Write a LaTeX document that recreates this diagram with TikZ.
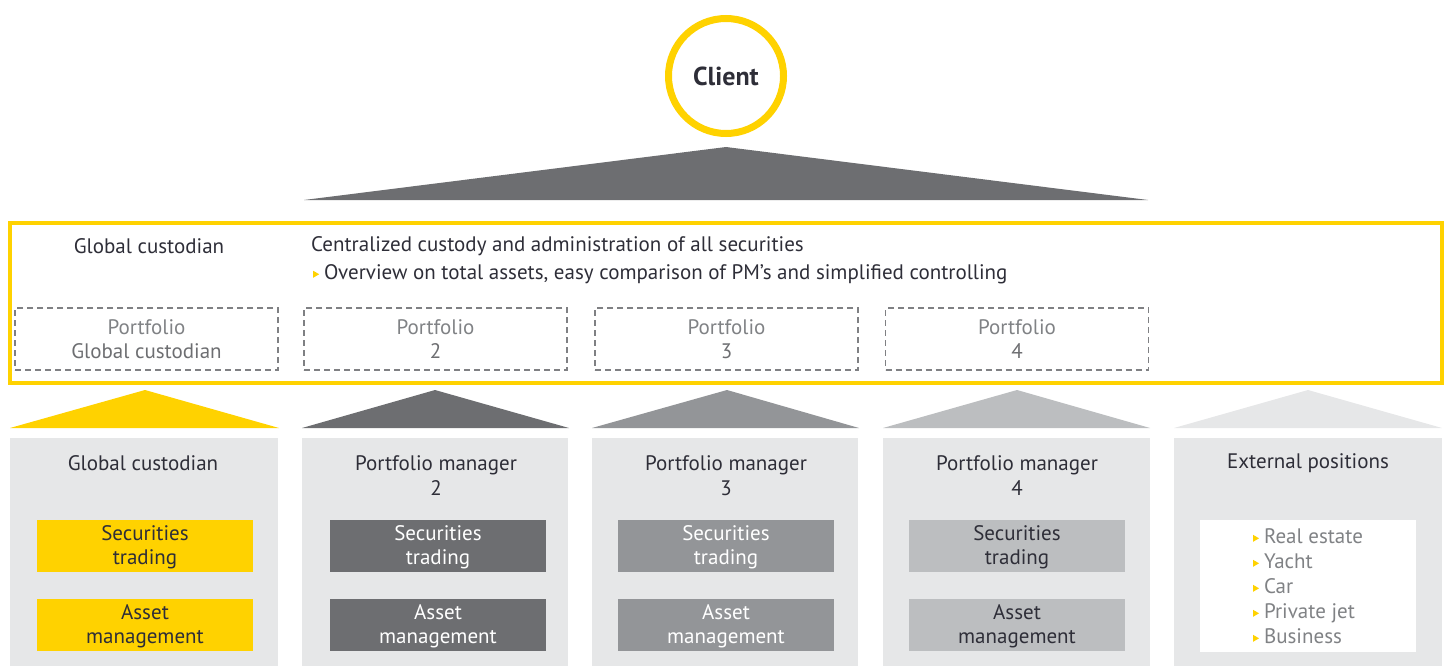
\documentclass[tikz,border=0pt]{standalone}
\usepackage{fontspec}
\setmainfont{PT Sans}
\definecolor{eyyellow}{HTML}{FFD200}
\definecolor{gdark}{HTML}{6D6E71}
\definecolor{gmid}{HTML}{939598}
\definecolor{glight}{HTML}{BCBEC0}
\definecolor{gpanel}{HTML}{E6E7E8}
\definecolor{txtdark}{HTML}{2E2E38}
\definecolor{txtgray}{HTML}{808285}
\definecolor{dashgray}{HTML}{7F8083}
\newcommand{\ybul}{\tikz[baseline=0pt]\fill[eyyellow] (0pt,1.5pt)--(0pt,8.5pt)--(6pt,5pt)--cycle;\hspace{5pt}}
\begin{document}
\begin{tikzpicture}[x=1pt,y=-1pt,
  every node/.style={font=\fontsize{21}{24}\selectfont, inner sep=0pt, text=txtdark},
  dbox/.style={draw=dashgray, line width=1.4pt, dash pattern=on 6pt off 4pt, minimum width=263pt, minimum height=62pt, align=center},
  panelbox/.style={fill=gpanel, minimum width=#1, minimum height=228pt},
  ibox/.style={fill=#1, minimum width=216pt, minimum height=52pt, align=center},
  title/.style={align=center, font=\fontsize{21}{25}\selectfont}
]
\useasboundingbox (0,0) rectangle (1448,666);

% client
\node[circle, draw=eyyellow, line width=7pt, minimum size=115pt, font=\fontsize{26}{30}\selectfont\bfseries, text=txtdark] (client) at (726,76) {Client};

% top roof
\fill[gdark] (304,200) -- (726,147) -- (1148,200) -- cycle;

% frame
\draw[eyyellow, line width=4pt] (9.5,223) rectangle (1442,383);

\node (gctop) at (149,246) {Global custodian};
\node[anchor=west] (cent) at (311,246) {Centralized custody and administration of all securities};
\node[anchor=west] (over) at (313,274) {\ybul Overview on total assets, easy comparison of PM’s and simplified controlling};

\node[dbox] (p1) at (146.5,339) {\textcolor{txtgray}{Portfolio}\\\textcolor{gdark}{Global custodian}};
\node[dbox] (p2) at (435.5,339) {\textcolor{txtgray}{Portfolio}\\\textcolor{gdark}{2}};
\node[dbox] (p3) at (726.5,339) {\textcolor{txtgray}{Portfolio}\\\textcolor{gdark}{3}};
\node[dbox] (p4) at (1017,339) {\textcolor{txtgray}{Portfolio}\\\textcolor{gdark}{4}};

% lower roofs
\fill[eyyellow] (10,428) -- (145,390) -- (279,428) -- cycle;
\fill[gdark] (302,428) -- (435,390) -- (569,428) -- cycle;
\fill[gmid] (592,428) -- (727,390) -- (859,428) -- cycle;
\fill[glight] (883,428) -- (1017,390) -- (1150,428) -- cycle;
\fill[gpanel] (1174,428) -- (1308,390) -- (1442,428) -- cycle;

% panels
\node[panelbox=268pt] (pan1) at (144,552) {};
\node[panelbox=266pt] (pan2) at (435,552) {};
\node[panelbox=266pt] (pan3) at (725,552) {};
\node[panelbox=267pt] (pan4) at (1016.5,552) {};
\node[panelbox=268pt] (pan5) at (1308,552) {};

\node[title] (t1) at (143,463) {Global custodian};
\node[title] (t2) at (436,475.5) {Portfolio manager\\2};
\node[title] (t3) at (726,475.5) {Portfolio manager\\3};
\node[title] (t4) at (1017,475.5) {Portfolio manager\\4};
\node[title] (t5) at (1308,463) {External positions};

% inner boxes
\node[ibox=eyyellow] (s1) at (145,546) {\strut Securities\\trading};
\node[ibox=eyyellow] (a1) at (145,625) {\strut Asset\\management};
\node[ibox=gdark, text=white] (s2) at (438,546) {\strut Securities\\trading};
\node[ibox=gdark, text=white] (a2) at (438,625) {\strut Asset\\management};
\node[ibox=gmid, text=white] (s3) at (726,546) {\strut Securities\\trading};
\node[ibox=gmid, text=white] (a3) at (726,625) {\strut Asset\\management};
\node[ibox=glight] (s4) at (1017,546) {\strut Securities\\trading};
\node[ibox=glight] (a4) at (1017,625) {\strut Asset\\management};

\node[fill=white, minimum width=216pt, minimum height=132pt] (ext) at (1308,586) {};
\node[align=left, text=txtgray, font=\fontsize{21}{25}\selectfont] (extlist) at (1308,586) {\ybul Real estate\\\ybul Yacht\\\ybul Car\\\ybul Private jet\\\ybul Business};
\end{tikzpicture}
\end{document}
